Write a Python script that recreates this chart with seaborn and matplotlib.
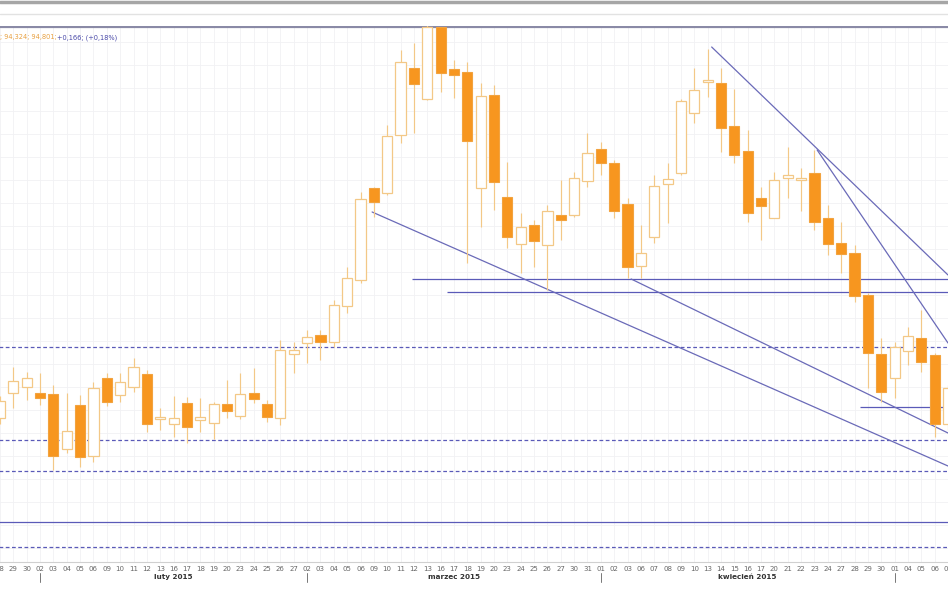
import matplotlib
matplotlib.use("Agg")
import matplotlib.pyplot as plt
import matplotlib.transforms as mtrans
from matplotlib.lines import Line2D
from matplotlib.ticker import MultipleLocator
import numpy as np
import pandas as pd
import seaborn as sns

# ---------------- data ----------------
dates = [
    "2015-01-28", "2015-01-29", "2015-01-30",
    "2015-02-02", "2015-02-03", "2015-02-04", "2015-02-05", "2015-02-06",
    "2015-02-09", "2015-02-10", "2015-02-11", "2015-02-12", "2015-02-13",
    "2015-02-16", "2015-02-17", "2015-02-18", "2015-02-19", "2015-02-20",
    "2015-02-23", "2015-02-24", "2015-02-25", "2015-02-26", "2015-02-27",
    "2015-03-02", "2015-03-03", "2015-03-04", "2015-03-05", "2015-03-06",
    "2015-03-09", "2015-03-10", "2015-03-11", "2015-03-12", "2015-03-13",
    "2015-03-16", "2015-03-17", "2015-03-18", "2015-03-19", "2015-03-20",
    "2015-03-23", "2015-03-24", "2015-03-25", "2015-03-26", "2015-03-27",
    "2015-03-30", "2015-03-31",
    "2015-04-01", "2015-04-02", "2015-04-03",
    "2015-04-06", "2015-04-07", "2015-04-08", "2015-04-09", "2015-04-10",
    "2015-04-13", "2015-04-14", "2015-04-15", "2015-04-16", "2015-04-17",
    "2015-04-20", "2015-04-21", "2015-04-22", "2015-04-23", "2015-04-24",
    "2015-04-27", "2015-04-28", "2015-04-29", "2015-04-30",
    "2015-05-01", "2015-05-04", "2015-05-05", "2015-05-06", "2015-05-07",
]
opens = [114.2, 116.7, 117.3, 116.7, 116.6, 111.1, 115.5, 110.4, 118.2, 116.5,
         117.3, 118.6, 114.1, 113.6, 115.7, 114.0, 113.7, 115.6, 114.4, 116.7,
         115.6, 114.2, 120.6, 121.7, 122.5, 121.8, 125.4, 128.0, 137.2, 136.7,
         142.5, 149.2, 146.1, 153.3, 149.1, 148.8, 137.2, 146.5, 136.3, 131.6,
         133.5, 131.5, 134.5, 134.5, 137.9, 141.1, 139.7, 135.6, 129.4, 132.3,
         137.6, 138.7, 144.7, 147.8, 147.7, 143.4, 140.9, 136.2, 134.2, 138.2,
         138.0, 138.7, 134.2, 131.7, 130.7, 126.5, 120.6, 118.2, 120.9, 122.2,
         120.5, 113.6]
highs = [116.4, 119.3, 118.8, 118.7, 117.5, 116.7, 116.5, 117.8, 118.7, 118.7,
         120.2, 119.0, 115.2, 116.4, 116.3, 116.2, 115.8, 118.0, 118.7, 119.2,
         116.0, 122.0, 121.8, 123.0, 123.0, 126.0, 129.3, 136.8, 137.3, 143.5,
         151.0, 151.7, 153.5, 153.3, 150.0, 149.8, 147.7, 147.5, 139.8, 134.7,
         134.0, 135.5, 138.0, 138.8, 142.7, 141.8, 140.0, 136.2, 133.5, 138.5,
         139.7, 146.1, 149.2, 151.1, 149.2, 147.1, 143.0, 137.3, 138.8, 141.3,
         139.2, 141.0, 135.5, 133.8, 131.5, 126.7, 122.2, 121.8, 123.3, 125.0,
         120.7, 117.5]
lows = [113.6, 115.2, 116.0, 115.5, 109.0, 110.7, 109.3, 109.8, 115.4, 115.8,
        116.8, 112.8, 113.0, 112.3, 111.7, 112.8, 112.1, 114.2, 114.1, 115.7,
        113.8, 113.5, 118.7, 119.7, 120.0, 121.3, 124.7, 127.7, 134.3, 136.5,
        141.7, 142.7, 146.0, 146.8, 146.2, 129.7, 133.3, 135.0, 131.2, 128.7,
        129.3, 127.0, 132.0, 134.3, 137.3, 138.5, 134.2, 128.2, 128.2, 131.7,
        133.7, 138.5, 143.7, 146.3, 140.8, 139.7, 133.8, 132.0, 134.2, 136.2,
        134.9, 133.0, 130.5, 128.7, 125.8, 117.2, 115.8, 116.2, 119.5, 118.8,
        112.3, 113.0]
closes = [115.9, 117.9, 118.2, 116.2, 110.4, 112.9, 110.3, 117.2, 115.8, 117.8,
          119.3, 113.6, 114.3, 114.2, 113.3, 114.3, 115.6, 114.9, 116.6, 116.1,
          114.3, 121.0, 121.0, 122.3, 121.8, 125.5, 128.2, 136.1, 135.8, 142.4,
          149.8, 147.6, 153.3, 148.7, 148.5, 141.9, 146.4, 137.8, 132.3, 133.3,
          131.9, 134.9, 134.0, 138.2, 140.7, 139.7, 134.9, 129.3, 130.7, 137.4,
          138.1, 145.9, 147.0, 148.0, 143.2, 140.5, 134.7, 135.4, 138.0, 138.5,
          138.2, 133.8, 131.6, 130.6, 126.4, 120.7, 116.8, 121.3, 122.4, 119.8,
          113.6, 117.2]

month_names = {2: "luty 2015", 3: "marzec 2015", 4: "kwiecień 2015"}

# horizontal levels: price, start date (None = full width), offset in days, dashed?
level_prices = [128.1, 126.8, 115.3, 121.3, 112.0, 108.9, 103.8, 101.3]
level_starts = ["2015-03-12", "2015-03-16", "2015-04-28", None, None, None, None, None]
level_offsets = [-0.15, 0.5, 0.4, 0, 0, 0, 0, 0]
level_dashed = [False, False, False, True, True, True, False, True]
top_level = 153.35

# trend lines: start date (+offset in days), start price, price at right edge
trend_start_dates = ["2015-03-09", "2015-04-03", "2015-04-13", "2015-04-23"]
trend_start_offsets = [-0.13, 0.27, 0.3, 0.2]
trend_start_prices = [134.8, 128.1, 151.3, 141.0]
trend_end_prices = [109.4, 112.7, 128.5, 121.7]

header_orange = "; 94,324; 94,801;"
header_blue = "+0,166; (+0,18%)"

# ---------------- figure ----------------
sns.set_theme(style="white")
plt.rcParams['font.family'] = ['DejaVu Sans']

W, H = 948, 593
fig = plt.figure(figsize=(W / 100, H / 100), dpi=100)
fig.patch.set_facecolor("white")

ax_top_px, ax_bot_px = 26, 562
ax = fig.add_axes([0, (H - ax_bot_px) / H, 1, (ax_bot_px - ax_top_px) / H])
ax.set_facecolor("white")

df = pd.DataFrame({"date": pd.to_datetime(dates), "open": opens, "high": highs,
                   "low": lows, "close": closes})
df["i"] = np.arange(len(df))
idx_of = {d: i for i, d in enumerate(dates)}

up = df["close"] >= df["open"]
body_w = 0.76
orange = "#f7961f"
orange_edge = "#f2a33f"
light = "#f3c887"

# wicks
ax.vlines(df["i"], df["low"], df["high"], color=light, lw=0.85, zorder=3)
# bodies
bottoms = np.minimum(df["open"], df["close"])
heights = np.maximum(np.abs(df["close"] - df["open"]), 0.15)
ax.bar(df["i"][up], heights[up], bottom=bottoms[up], width=body_w,
       color="white", edgecolor=light, linewidth=0.9, zorder=4)
ax.bar(df["i"][~up], heights[~up], bottom=bottoms[~up], width=body_w,
       color=orange, edgecolor=orange_edge, linewidth=0.8, zorder=4)

xlim = (0.254, 71.0)
ax.set_xlim(*xlim)
ylim = (99.8, 153.4)
ax.set_ylim(*ylim)

blue = "#5a5ab8"
ax.axhline(top_level, color="#8a8aa6", lw=1.6, zorder=2)
for p, s, off, d in zip(level_prices, level_starts, level_offsets, level_dashed):
    xs = idx_of[s] + off if s else xlim[0] - 1
    if d:
        ax.hlines(p, xs, xlim[1] + 1, color=blue, lw=0.9, linestyles=(0, (3, 2)), zorder=2)
    else:
        ax.hlines(p, xs, xlim[1] + 1, color=blue, lw=0.9, zorder=2)

for sd, off, sp, ep in zip(trend_start_dates, trend_start_offsets,
                           trend_start_prices, trend_end_prices):
    ax.plot([idx_of[sd] + off, xlim[1]], [sp, ep], color="#6a6ab8", lw=0.9, zorder=2)

# grid
ax.xaxis.set_minor_locator(MultipleLocator(1))
ax.yaxis.set_major_locator(MultipleLocator(2.3))
ax.grid(True, which="both", axis="x", color="#f1f1f4", lw=0.6, zorder=0)
ax.grid(True, which="major", axis="y", color="#f1f1f4", lw=0.6, zorder=0)
ax.set_yticklabels([])
ax.tick_params(axis="y", length=0)

# x ticks: day labels
ax.set_xticks(df["i"])
ax.set_xticklabels(df["date"].dt.strftime("%d"), fontsize=5, color="#666666")
ax.tick_params(axis="x", which="major", length=2, width=0.5, color="#bbbbbb", pad=1.2)
ax.tick_params(axis="x", which="minor", length=0)

for sp_name, spine in ax.spines.items():
    spine.set_visible(False)
ax.spines["bottom"].set_visible(True)
ax.spines["bottom"].set_color("#d0d0d0")
ax.spines["bottom"].set_linewidth(0.8)

# month labels and month ticks
trans = mtrans.blended_transform_factory(ax.transData, ax.transAxes)
months = df["date"].dt.month.values
starts = [i for i in range(1, len(df)) if months[i] != months[i - 1]]
for k, s in enumerate(starts):
    ax.plot([s, s], [-0.021, -0.037], transform=trans, color="#777777", lw=0.7,
            clip_on=False)
    m = months[s]
    if m in month_names and k + 1 < len(starts):
        c = (s + starts[k + 1]) / 2
        ax.text(c, -0.028, month_names[m], transform=trans, ha="center", va="center",
                fontsize=5.2, color="#333333", fontweight="bold")

# header text
ax.text(0.0, 0.979, header_orange, transform=ax.transAxes, fontsize=4.8,
        color="#e8a040", va="center", ha="left")
ax.text(0.060, 0.979, header_blue, transform=ax.transAxes, fontsize=4.8,
        color="#4848a8", va="center", ha="left")

# window chrome at top
fig.add_artist(Line2D([0, 1], [1 - 1.5 / H, 1 - 1.5 / H], transform=fig.transFigure,
                      color="#a6a6a6", lw=2.5))
fig.add_artist(Line2D([0, 1], [1 - 13.5 / H, 1 - 13.5 / H], transform=fig.transFigure,
                      color="#e2e2e2", lw=1.0))

fig.savefig("out.png", dpi=100, facecolor="white")
